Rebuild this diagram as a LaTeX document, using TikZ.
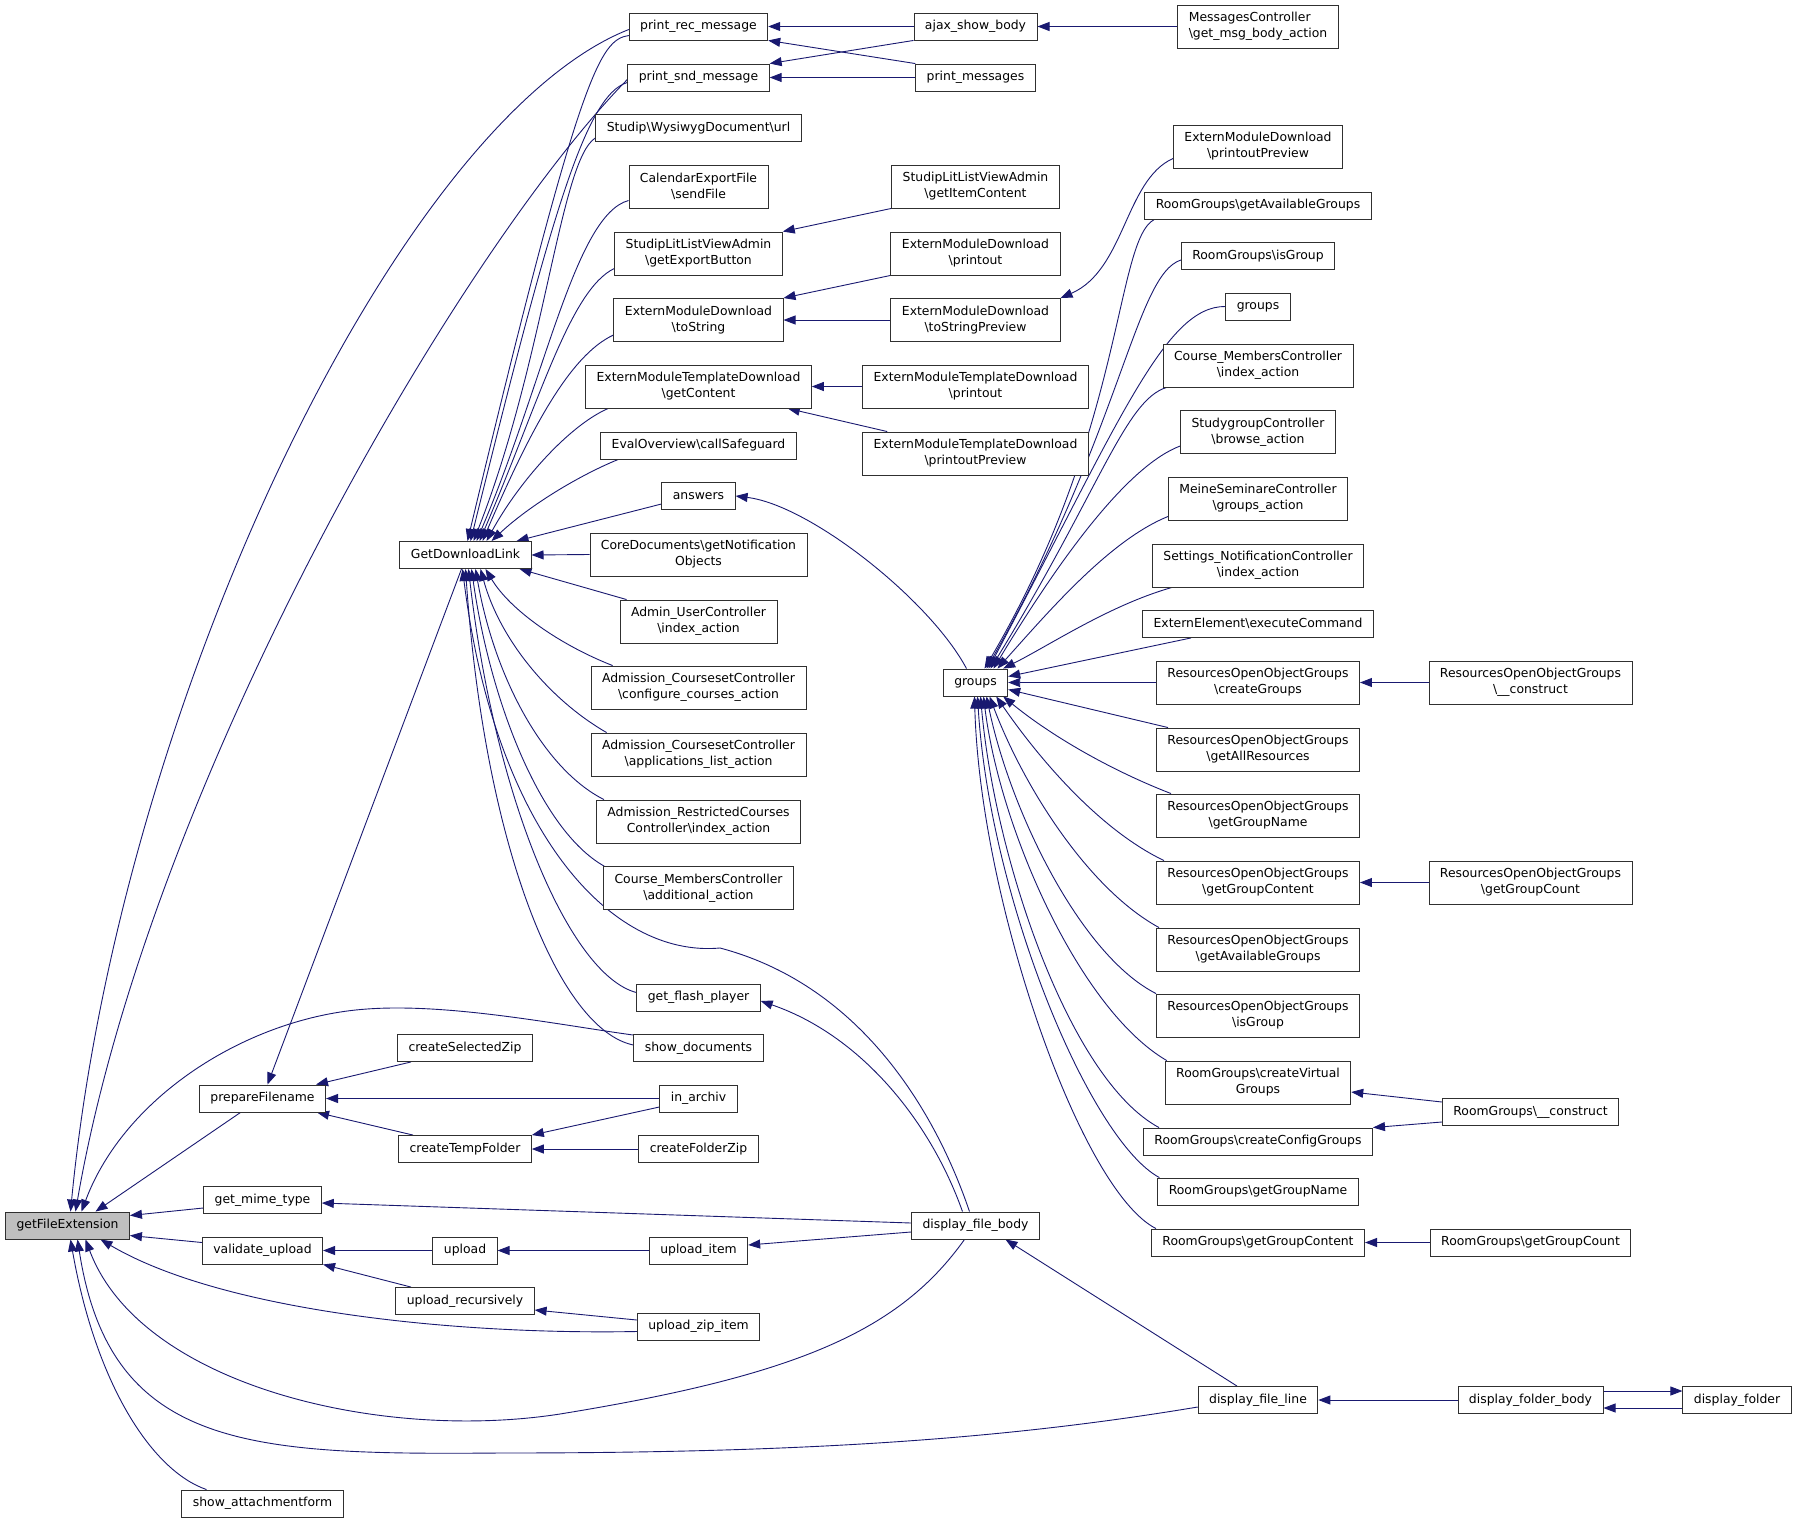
\documentclass[tikz,border=0pt]{standalone}
\usepackage{fontspec}
\setmainfont{DejaVu Sans}
\usetikzlibrary{arrows.meta,backgrounds}
\definecolor{edgec}{HTML}{191970}
\definecolor{boxc}{HTML}{303030}
\definecolor{gfefill}{HTML}{BFBFBF}
\newcommand{\bsl}{\textbackslash}
\newcommand{\nodefont}{\fontsize{12.4}{16}\selectfont}
\begin{document}
\begin{tikzpicture}[x=1pt,y=-1pt,
  n1/.style={draw=boxc, line width=0.9pt, fill=white, inner xsep=11pt, inner ysep=0pt, minimum height=27pt, text height=9.3pt, text depth=2.9pt, font=\nodefont},
  n2/.style={draw=boxc, line width=0.9pt, fill=white, inner xsep=11pt, inner ysep=0pt, minimum height=43pt, align=center, font=\nodefont},
  edg/.style={draw=edgec, line width=0.9pt, -{Triangle[length=12pt,width=9pt]}}]
\useasboundingbox (0,0) rectangle (1797,1523);
% column A
\node[n1, fill=gfefill] (gfe) at (67.5,1225.5) {getFileExtension};
% column B
\node[n1] (pf) at (262.5,1098.5) {prepareFilename};
\node[n1] (gmt) at (262.5,1200) {get\_mime\_type};
\node[n1] (vu) at (262.5,1250.5) {validate\_upload};
\node[n1] (sa) at (262.5,1503.5) {show\_attachmentform};
% column C
\node[n1] (gdl) at (465.5,555) {GetDownloadLink};
\node[n1] (csz) at (465,1048) {createSelectedZip};
\node[n1] (ctf) at (465,1149) {createTempFolder};
\node[n1] (up) at (465,1250.5) {upload};
\node[n1] (ur) at (465,1301) {upload\_recursively};
% column D
\node[n1] (prm) at (698.5,26.5) {print\_rec\_message};
\node[n1] (psm) at (698.5,77.5) {print\_snd\_message};
\node[n1] (url) at (698.5,128) {Studip\bsl WysiwygDocument\bsl url};
\node[n2] (cef) at (698.5,186.5) {CalendarExportFile\\\bsl sendFile};
\node[n2] (geb) at (698.5,253.5) {StudipLitListViewAdmin\\\bsl getExportButton};
\node[n2] (ts) at (698.5,320) {ExternModuleDownload\\\bsl toString};
\node[n2] (gc) at (698.5,386.5) {ExternModuleTemplateDownload\\\bsl getContent};
\node[n1] (eval) at (698.5,445.5) {EvalOverview\bsl callSafeguard};
\node[n1] (ans) at (698.5,496) {answers};
\node[n2] (core) at (698.5,554.5) {CoreDocuments\bsl getNotification\\Objects};
\node[n2] (auc) at (698.5,621.5) {Admin\_UserController\\\bsl index\_action};
\node[n2] (acc) at (698.5,687.5) {Admission\_CoursesetController\\\bsl configure\_courses\_action};
\node[n2] (acl) at (698.5,754.5) {Admission\_CoursesetController\\\bsl applications\_list\_action};
\node[n2] (arc) at (698.5,821.5) {Admission\_RestrictedCourses\\Controller\bsl index\_action};
\node[n2] (cma) at (698.5,888) {Course\_MembersController\\\bsl additional\_action};
\node[n1] (gfp) at (698.5,997.5) {get\_flash\_player};
\node[n1] (sd) at (698.5,1048) {show\_documents};
\node[n1] (ia) at (698.5,1098.5) {in\_archiv};
\node[n1] (cfz) at (698.5,1149) {createFolderZip};
\node[n1] (ui) at (698.5,1250.5) {upload\_item};
\node[n1] (uzi) at (698.5,1326.5) {upload\_zip\_item};
% column E
\node[n1] (asb) at (975.5,26.5) {ajax\_show\_body};
\node[n1] (pm) at (975.5,77.5) {print\_messages};
\node[n2] (sga) at (975.5,186.5) {StudipLitListViewAdmin\\\bsl getItemContent};
\node[n2] (emdp) at (975.5,253.5) {ExternModuleDownload\\\bsl printout};
\node[n2] (tsp) at (975.5,320) {ExternModuleDownload\\\bsl toStringPreview};
\node[n2] (emtp) at (975.5,386.5) {ExternModuleTemplateDownload\\\bsl printout};
\node[n2] (emtpp) at (975.5,453.5) {ExternModuleTemplateDownload\\\bsl printoutPreview};
\node[n1] (grp) at (975.5,682.5) {groups};
\node[n1] (dfb) at (975.5,1225.5) {display\_file\_body};
% column F
\node[n2, align=left] (mc) at (1258,26.5) {MessagesController\\\bsl get\_msg\_body\_action};
\node[n2] (emdpp) at (1258,146.5) {ExternModuleDownload\\\bsl printoutPreview};
\node[n1] (rgag) at (1258,205.5) {RoomGroups\bsl getAvailableGroups};
\node[n1] (rgig) at (1258,256) {RoomGroups\bsl isGroup};
\node[n1] (grr) at (1258,306.5) {groups};
\node[n2] (cmi) at (1258,365.5) {Course\_MembersController\\\bsl index\_action};
\node[n2] (sgb) at (1258,432) {StudygroupController\\\bsl browse\_action};
\node[n2] (msg) at (1258,498.5) {MeineSeminareController\\\bsl groups\_action};
\node[n2] (snc) at (1258,565.5) {Settings\_NotificationController\\\bsl index\_action};
\node[n1] (eec) at (1258,624) {ExternElement\bsl executeCommand};
\node[n2] (rcg) at (1258,682.5) {ResourcesOpenObjectGroups\\\bsl createGroups};
\node[n2] (rgar) at (1258,749.5) {ResourcesOpenObjectGroups\\\bsl getAllResources};
\node[n2] (rggn) at (1258,815.5) {ResourcesOpenObjectGroups\\\bsl getGroupName};
\node[n2] (rggc) at (1258,882.5) {ResourcesOpenObjectGroups\\\bsl getGroupContent};
\node[n2] (rgavg) at (1258,949.5) {ResourcesOpenObjectGroups\\\bsl getAvailableGroups};
\node[n2] (rgisg) at (1258,1015.5) {ResourcesOpenObjectGroups\\\bsl isGroup};
\node[n2] (rgcv) at (1258,1082.5) {RoomGroups\bsl createVirtual\\Groups};
\node[n1] (rgcc) at (1258,1141.5) {RoomGroups\bsl createConfigGroups};
\node[n1] (rggn2) at (1258,1191.5) {RoomGroups\bsl getGroupName};
\node[n1] (rggc2) at (1258,1242.5) {RoomGroups\bsl getGroupContent};
\node[n1] (dfl) at (1258,1400) {display\_file\_line};
% column G
\node[n2] (rcon) at (1530.5,682.5) {ResourcesOpenObjectGroups\\\bsl\_\_construct};
\node[n2] (rgcount) at (1530.5,882.5) {ResourcesOpenObjectGroups\\\bsl getGroupCount};
\node[n1] (rgconst) at (1530.5,1112) {RoomGroups\bsl\_\_construct};
\node[n1] (rgcount2) at (1530.5,1242.5) {RoomGroups\bsl getGroupCount};
\node[n1] (dfob) at (1530.5,1400) {display\_folder\_body};
\node[n1] (dfo) at (1737,1400) {display\_folder};

\begin{scope}[on background layer]
% messages
\draw[edg] (asb.west) -- (prm.east);
\draw[edg] (pm.north west) -- (prm.south east);
\draw[edg] (asb.south west) -- (psm.north east);
\draw[edg] (pm.west) -- (psm.east);
\draw[edg] (mc.west) -- (asb.east);
% extern modules
\draw[edg] (sga.south west) -- (geb.north east);
\draw[edg] (emdp.south west) -- (ts.north east);
\draw[edg] (tsp.west) -- (ts.east);
\draw[edg] ([yshift=-12pt]emdpp.west) .. controls (1125,180) and (1125,270) .. (tsp.north east);
\draw[edg] (emtp.west) -- (gc.east);
\draw[edg] ([xshift=25pt]emtpp.north west) -- ([xshift=-24pt]gc.south east);
\draw[edg] ([xshift=-9pt]grp.north) .. controls (930,600) and (810,505) .. (ans.east);
% into GetDownloadLink
\draw[edg] (core.west) -- (gdl.east);
\draw[edg] ([yshift=-8pt]ans.west) -- ([xshift=-15pt]gdl.north east);
\draw[edg] ([xshift=7pt]auc.north west) -- ([xshift=-12pt]gdl.south east);
\draw[edg] ([xshift=22pt]acc.north west) .. controls (560,645) and (510,610) .. ([xshift=20pt]gdl.south);
\draw[edg] ([xshift=16pt]acl.north west) .. controls (550,700) and (500,640) .. ([xshift=15pt]gdl.south);
\draw[edg] ([xshift=8pt]arc.north west) .. controls (545,770) and (495,680) .. ([xshift=10pt]gdl.south);
\draw[edg] ([xshift=1pt]cma.north west) .. controls (540,830) and (490,700) .. ([xshift=6pt]gdl.south);
\draw[edg] ([yshift=5pt]gfp.west) .. controls (570,975) and (495,800) .. ([xshift=3pt]gdl.south);
\draw[edg] ([yshift=3pt]sd.west) .. controls (560,1030) and (485,850) .. (gdl.south);
\draw[edg] ([xshift=-6pt]dfb.north) .. controls (935,1110) and (860,985) .. (720,948) .. controls (610,958) and (495,830) .. ([xshift=-3pt]gdl.south);
\draw[edg] ([xshift=-4pt]gdl.south) -- ([xshift=5pt]pf.north);
\draw[edg] ([yshift=-9pt]prm.west) .. controls (600,40) and (580,70) .. ([xshift=2pt]gdl.north);
\draw[edg] ([yshift=-5pt]psm.west) .. controls (585,95) and (550,220) .. ([xshift=5pt]gdl.north);
\draw[edg] ([yshift=-10pt]url.west) .. controls (560,160) and (545,360) .. ([xshift=8pt]gdl.north);
\draw[edg] ([yshift=-14pt]cef.west) .. controls (575,215) and (545,380) .. ([xshift=11pt]gdl.north);
\draw[edg] ([yshift=-15pt]geb.west) .. controls (570,290) and (540,400) .. ([xshift=14pt]gdl.north);
\draw[edg] ([yshift=-15pt]ts.west) .. controls (570,355) and (530,430) .. ([xshift=17pt]gdl.north);
\draw[edg] ([xshift=23pt]gc.south west) .. controls (570,425) and (520,480) .. ([xshift=21pt]gdl.north);
\draw[edg] ([xshift=18pt]eval.south west) .. controls (580,475) and (530,505) .. ([xshift=26pt]gdl.north);
% into getFileExtension
\draw[edg] ([yshift=-3pt]prm.west) .. controls (400,120) and (120,700) .. ([xshift=3pt]gfe.north);
\draw[edg] ([yshift=-2pt]psm.west) .. controls (460,250) and (150,780) .. ([xshift=8pt]gfe.north);
\draw[edg] ([yshift=-1pt]sd.north west) .. controls (560,1025) and (450,1003) .. (367,1009) .. controls (250,1017) and (125,1095) .. ([xshift=14pt]gfe.north);
\draw[edg] ([xshift=-22pt]pf.south) -- ([xshift=28pt]gfe.north);
\draw[edg] ([yshift=-8pt]gmt.west) -- ([yshift=10pt]gfe.east);
\draw[edg] ([yshift=8pt]vu.west) -- ([yshift=-10pt]gfe.east);
\draw[edg] ([yshift=-5pt]uzi.west) .. controls (450,1335) and (220,1310) .. ([xshift=33pt]gfe.south);
\draw[edg] ([xshift=-11pt]dfb.south) .. controls (900,1330) and (800,1375) .. (560,1414) .. controls (380,1442) and (140,1385) .. ([xshift=18pt]gfe.south);
\draw[edg] ([yshift=-7pt]dfl.west) .. controls (1000,1440) and (800,1453) .. (500,1453) .. controls (250,1455) and (110,1450) .. ([xshift=10pt]gfe.south);
\draw[edg] ([xshift=-56pt]sa.north) .. controls (150,1470) and (95,1380) .. ([xshift=3pt]gfe.south);
% lower middle
\draw[edg] ([yshift=2.5pt]dfb.west) -- ([yshift=-3pt]gmt.east);
\draw[edg] ([yshift=-6.5pt]dfb.west) -- ([yshift=5.5pt]ui.east);
\draw[edg] (ui.west) -- (up.east);
\draw[edg] (up.west) -- (vu.east);
\draw[edg] ([xshift=-54pt]ur.north) -- (vu.south east);
\draw[edg] ([yshift=6.5pt]uzi.west) -- ([yshift=-9pt]ur.east);
\draw[edg] ([xshift=-21pt]dfl.north) -- ([xshift=30pt]dfb.south);
\draw[edg] (dfob.west) -- (dfl.east);
\draw[edg] ([yshift=9pt]dfob.east) -- ([yshift=9pt]dfo.west);
\draw[edg] ([yshift=-8pt]dfo.west) -- ([yshift=-8pt]dfob.east);
\draw[edg] ([xshift=-13pt]dfb.north) .. controls (930,1120) and (860,1035) .. ([yshift=-3.5pt]gfp.east);
\draw[edg] (ia.west) -- (pf.east);
\draw[edg] ([yshift=-8.5pt]ia.west) -- (ctf.north east);
\draw[edg] (cfz.west) -- (ctf.east);
\draw[edg] ([xshift=-54pt]csz.south) -- ([xshift=-10pt]pf.north east);
\draw[edg] ([xshift=-52pt]ctf.north) -- ([xshift=-9pt]pf.south east);
% right side
\draw[edg] (rcon.west) -- (rcg.east);
\draw[edg] (rgcount.west) -- (rggc.east);
\draw[edg] ([yshift=10pt]rgconst.west) -- ([yshift=-9.5pt]rgcv.east);
\draw[edg] ([yshift=-10pt]rgconst.west) -- (rgcc.north east);
\draw[edg] (rgcount2.west) -- (rggc2.east);
% into groups
\draw[edg] ([xshift=10pt]rgag.south west) .. controls (1115,240) and (1125,430) .. ([xshift=9pt]grp.north);
\draw[edg] ([yshift=-4pt]rgig.west) .. controls (1135,275) and (1122,430) .. ([xshift=11pt]grp.north);
\draw[edg] (grr.west) .. controls (1165,306) and (1120,420) .. ([xshift=13pt]grp.north);
\draw[edg] ([xshift=4pt]cmi.south west) .. controls (1125,400) and (1100,490) .. ([xshift=15pt]grp.north);
\draw[edg] ([yshift=-14pt]sgb.west) .. controls (1130,465) and (1065,550) .. ([xshift=18pt]grp.north);
\draw[edg] ([yshift=-18pt]msg.west) .. controls (1110,540) and (1050,610) .. ([xshift=22pt]grp.north);
\draw[edg] ([xshift=20pt]snc.south west) .. controls (1110,605) and (1050,645) .. ([xshift=-5pt]grp.north east);
\draw[edg] ([xshift=-67pt]eec.south) -- ([yshift=6pt]grp.east);
\draw[edg] (rcg.west) -- (grp.east);
\draw[edg] ([xshift=12pt]rgar.north west) -- ([yshift=-7pt]grp.east);
\draw[edg] ([xshift=15pt]rggn.north west) .. controls (1110,770) and (1050,735) .. ([xshift=-5pt]grp.south east);
\draw[edg] ([xshift=8pt]rggc.north west) .. controls (1100,830) and (1040,760) .. ([xshift=-12pt]grp.south east);
\draw[edg] ([xshift=3pt]rgavg.north west) .. controls (1090,890) and (1025,790) .. ([xshift=14pt]grp.south);
\draw[edg] (rgisg.north west) .. controls (1080,955) and (1010,810) .. ([xshift=11pt]grp.south);
\draw[edg] ([xshift=2pt]rgcv.north west) .. controls (1080,1010) and (1000,830) .. ([xshift=8pt]grp.south);
\draw[edg] ([xshift=16pt]rgcc.north west) .. controls (1070,1080) and (995,860) .. ([xshift=5pt]grp.south);
\draw[edg] ([xshift=2pt]rggn2.north west) .. controls (1090,1140) and (990,900) .. ([xshift=2pt]grp.south);
\draw[edg] ([xshift=5pt]rggc2.north west) .. controls (1080,1190) and (980,900) .. ([xshift=-1pt]grp.south);
\end{scope}
\end{tikzpicture}
\end{document}
